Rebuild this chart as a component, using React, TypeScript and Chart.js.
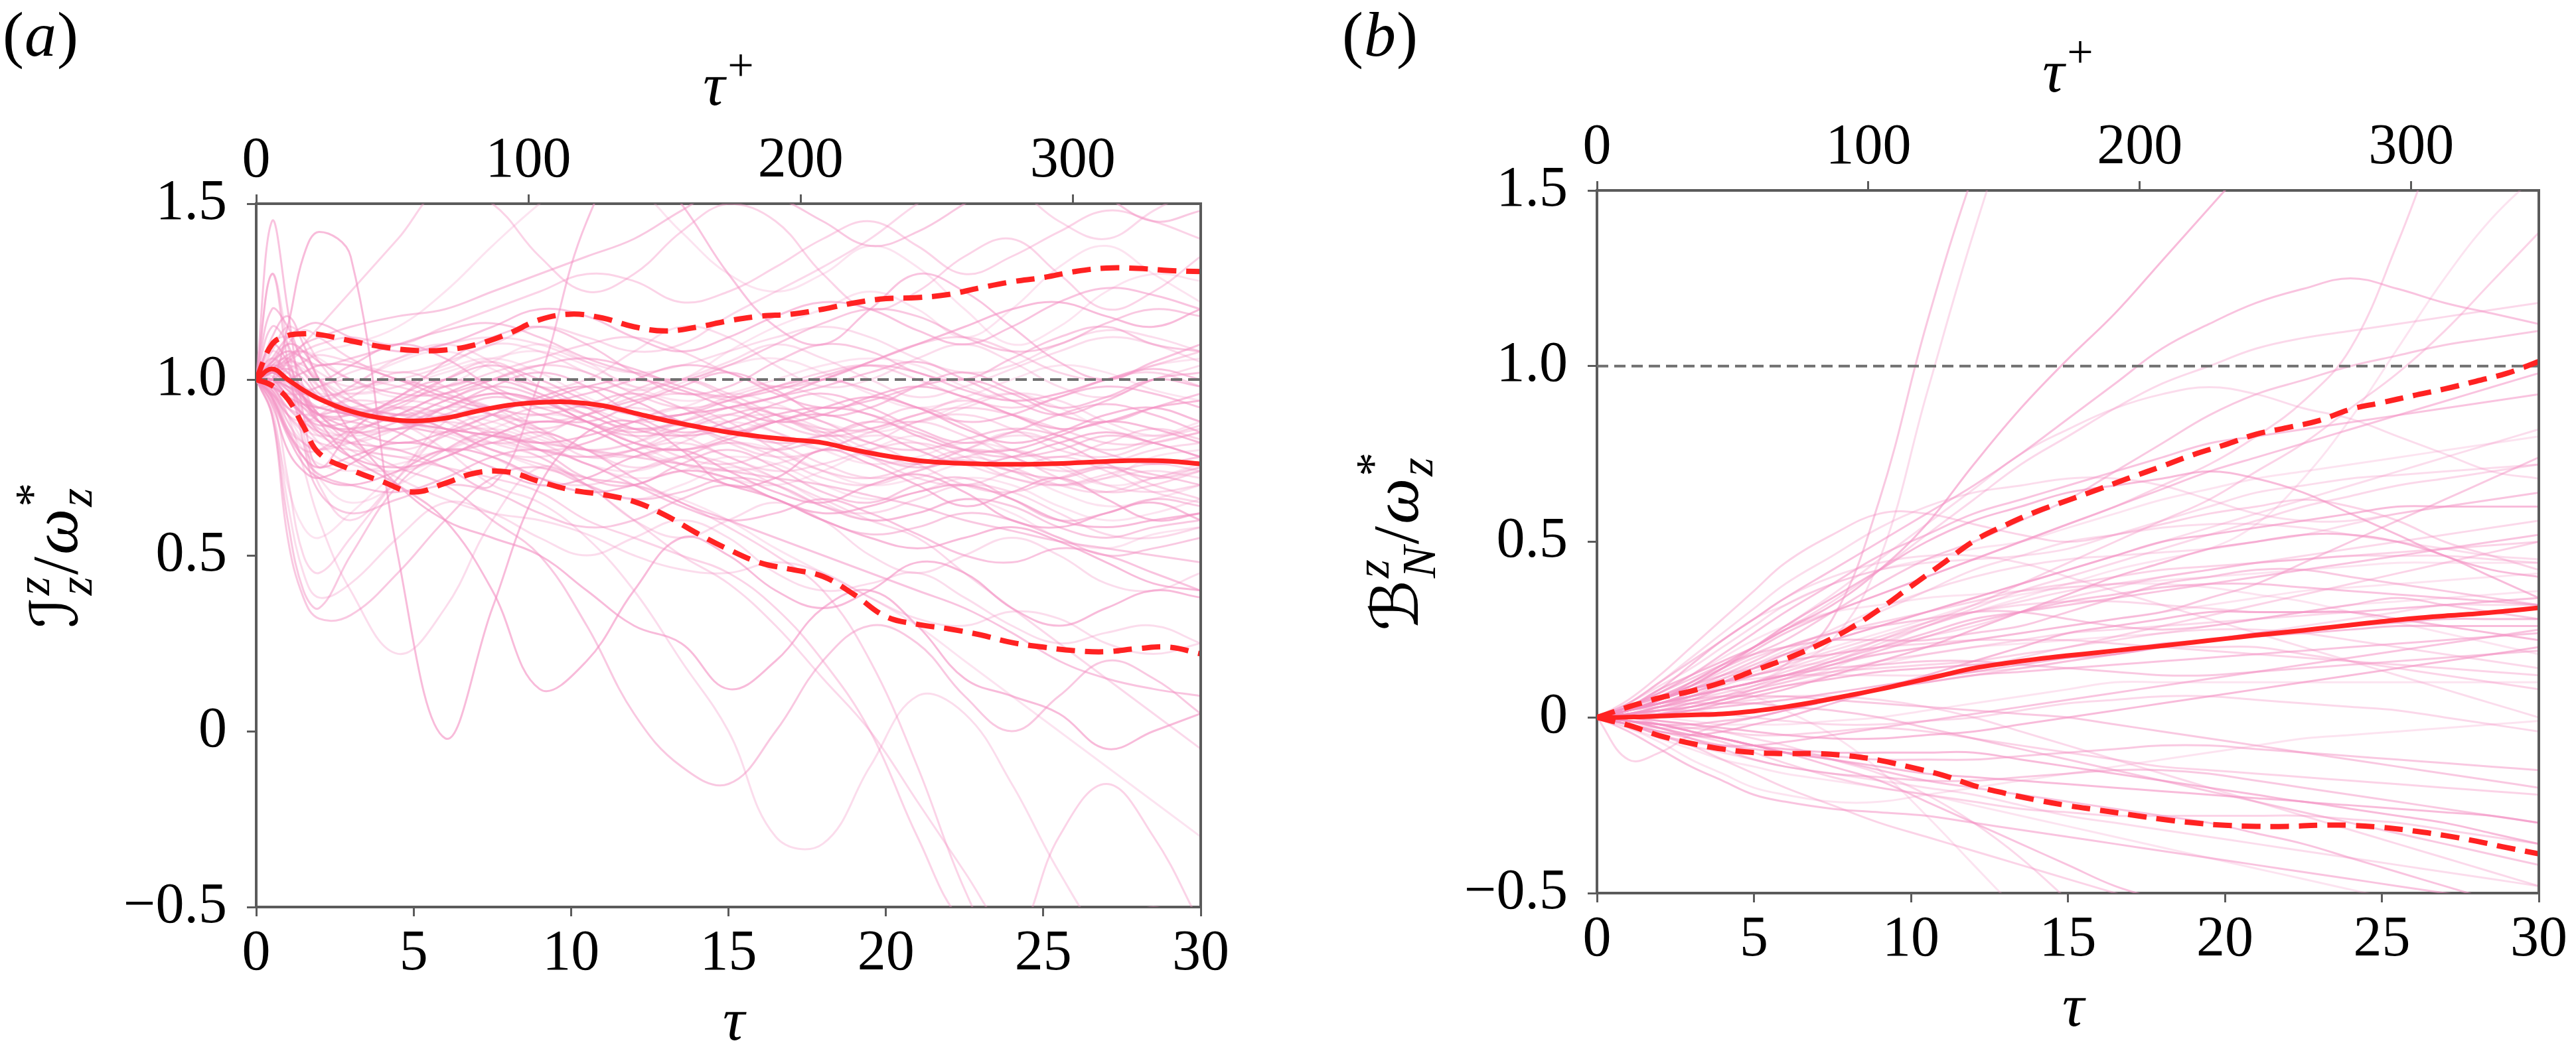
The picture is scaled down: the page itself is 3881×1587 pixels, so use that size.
import React, { useEffect, useRef } from 'react';
import { Chart, registerables } from 'chart.js';

Chart.register(...registerables);

// ---------------- data ----------------
const X_TICKS = [0, 5, 10, 15, 20, 25, 30];
const TOP_TICKS = [0, 100, 200, 300];
const TAU_PLUS_MAX = 347;
const Y_TICKS = [-0.5, 0, 0.5, 1.0, 1.5];

const TAU_STAT = [0, 0.5, 1, 1.5, 2, 3, 4, 5, 6, 7, 8, 9, 10, 11, 12, 13, 14, 15, 16, 17, 18, 19, 20, 21, 22, 23, 24, 25, 26, 27, 28, 29, 30];

const MEAN_A = [1.0, 1.03, 1.0, 0.97, 0.945, 0.91, 0.89, 0.882, 0.89, 0.91, 0.927, 0.935, 0.936, 0.926, 0.905, 0.884, 0.866, 0.85, 0.838, 0.829, 0.82, 0.8, 0.783, 0.77, 0.763, 0.76, 0.759, 0.76, 0.763, 0.767, 0.77, 0.768, 0.76];
const UPPER_A = [1.0, 1.1, 1.125, 1.13, 1.128, 1.11, 1.093, 1.083, 1.084, 1.1, 1.13, 1.17, 1.186, 1.175, 1.15, 1.138, 1.149, 1.167, 1.18, 1.186, 1.2, 1.218, 1.23, 1.233, 1.242, 1.261, 1.278, 1.29, 1.307, 1.317, 1.316, 1.31, 1.307];
const LOWER_A = [1.0, 0.983, 0.945, 0.867, 0.79, 0.744, 0.71, 0.68, 0.705, 0.735, 0.737, 0.71, 0.686, 0.673, 0.653, 0.614, 0.563, 0.517, 0.479, 0.46, 0.44, 0.388, 0.326, 0.304, 0.291, 0.274, 0.252, 0.239, 0.229, 0.226, 0.235, 0.239, 0.22];

const MEAN_B = [0, 0, 0.001, 0.002, 0.004, 0.007, 0.01, 0.018, 0.03, 0.045, 0.062, 0.08, 0.1, 0.12, 0.14, 0.154, 0.166, 0.176, 0.185, 0.195, 0.204, 0.214, 0.224, 0.234, 0.243, 0.253, 0.263, 0.273, 0.282, 0.289, 0.295, 0.303, 0.312];
const UPPER_B = [0, 0.015, 0.03, 0.043, 0.056, 0.075, 0.1, 0.133, 0.166, 0.204, 0.25, 0.308, 0.373, 0.437, 0.502, 0.547, 0.586, 0.618, 0.65, 0.683, 0.715, 0.748, 0.776, 0.806, 0.825, 0.845, 0.877, 0.896, 0.916, 0.935, 0.957, 0.98, 1.013];
const LOWER_B = [0, -0.011, -0.022, -0.037, -0.052, -0.074, -0.09, -0.1, -0.103, -0.103, -0.109, -0.122, -0.142, -0.164, -0.194, -0.216, -0.235, -0.251, -0.264, -0.277, -0.29, -0.3, -0.307, -0.31, -0.31, -0.307, -0.307, -0.313, -0.323, -0.336, -0.352, -0.371, -0.388];

const REF_A = 1.0;
const REF_B = 1.0;

const TAU_A = [0, 0.5, 1, 1.5, 2, 3, 4.5, 6, 7.5, 9, 10.5, 12, 13.5, 15, 16.5, 18, 19.5, 21, 22.5, 24, 25.5, 27, 28.5, 30];
const SAMPLES_A = [
  [1, 1.02, 0.98, 0.93, 0.9, 0.88, 0.86, 0.9, 0.95, 0.92, 0.88, 0.85, 0.87, 0.83, 0.8, 0.82, 0.78, 0.75, 0.77, 0.74, 0.72, 0.75, 0.73, 0.7],
  [1, 1.05, 1.08, 1.06, 1.02, 0.98, 1.0, 1.04, 1.1, 1.08, 1.02, 0.97, 1.0, 1.05, 1.1, 1.06, 1.0, 0.95, 0.98, 1.03, 1.08, 1.12, 1.1, 1.05],
  [1, 0.95, 0.85, 0.78, 0.75, 0.78, 0.82, 0.8, 0.75, 0.7, 0.72, 0.78, 0.8, 0.74, 0.68, 0.65, 0.7, 0.73, 0.68, 0.6, 0.58, 0.62, 0.65, 0.6],
  [1, 1.1, 1.12, 1.05, 0.98, 0.9, 0.92, 1.0, 1.05, 0.98, 0.92, 0.95, 1.0, 0.96, 0.9, 0.85, 0.88, 0.92, 0.87, 0.8, 0.78, 0.82, 0.86, 0.83],
  [1, 0.98, 0.9, 0.82, 0.72, 0.65, 0.7, 0.78, 0.82, 0.78, 0.7, 0.66, 0.7, 0.75, 0.72, 0.65, 0.6, 0.62, 0.66, 0.62, 0.55, 0.52, 0.56, 0.58],
  [1, 1.45, 1.2, 0.9, 0.75, 0.85, 0.95, 1.0, 0.97, 0.9, 0.88, 0.93, 0.98, 1.02, 0.97, 0.9, 0.92, 0.98, 1.02, 0.97, 0.92, 0.95, 1.0, 0.98],
  [1, 1.3, 1.1, 0.85, 0.7, 0.6, 0.72, 0.85, 0.9, 0.86, 0.8, 0.75, 0.78, 0.82, 0.78, 0.72, 0.7, 0.74, 0.78, 0.75, 0.7, 0.68, 0.72, 0.75],
  [1, 0.9, 0.6, 0.4, 0.35, 0.5, 0.7, 0.8, 0.85, 0.8, 0.72, 0.7, 0.76, 0.8, 0.75, 0.68, 0.65, 0.7, 0.72, 0.66, 0.6, 0.62, 0.66, 0.64],
  [1, 0.92, 0.65, 0.45, 0.38, 0.42, 0.55, 0.65, 0.62, 0.55, 0.5, 0.55, 0.6, 0.55, 0.45, 0.4, 0.42, 0.45, 0.38, 0.3, 0.25, 0.28, 0.3, 0.25],
  [1, 1.0, 1.15, 1.35, 1.42, 1.35, 0.5, -0.02, 0.35, 0.7, 0.85, 0.88, 0.8, 0.7, 0.72, 0.8, 0.76, 0.7, 0.64, 0.68, 0.72, 0.66, 0.6, 0.62],
  [1, 1.02, 1.05, 1.08, 1.1, 1.12, 1.1, 1.15, 1.2, 1.25, 1.3, 1.28, 1.22, 1.25, 1.32, 1.4, 1.45, 1.38, 1.3, 1.35, 1.42, 1.48, 1.45, 1.4],
  [1, 1.0, 1.02, 1.05, 1.08, 1.1, 1.15, 1.25, 1.38, 1.5, 1.6, 1.55, 1.42, 1.3, 1.25, 1.3, 1.38, 1.32, 1.2, 1.1, 1.15, 1.25, 1.3, 1.28],
  [1, 0.98, 0.92, 0.88, 0.85, 0.82, 0.8, 0.75, 0.7, 1.0, 1.45, 1.65, 1.5, 1.3, 1.15, 1.1, 1.2, 1.3, 1.25, 1.15, 1.05, 1.0, 1.05, 1.1],
  [1, 1.0, 0.95, 0.9, 0.88, 0.9, 0.92, 0.88, 0.82, 0.78, 0.7, 0.6, 0.5, 0.42, 0.3, 0.15, 0.0, -0.2, -0.4, -0.6, -0.7, -0.6, -0.5, -0.6],
  [1, 1.02, 1.0, 0.95, 0.9, 0.82, 0.75, 0.7, 0.6, 0.5, 0.3, 0.05, -0.1, -0.15, 0.0, 0.2, 0.3, 0.25, 0.1, 0.0, 0.1, 0.2, 0.15, 0.05],
  [1, 0.98, 0.95, 0.92, 0.9, 0.92, 0.88, 0.8, 0.7, 0.65, 0.55, 0.4, 0.2, 0.0, -0.3, -0.32, -0.1, 0.1, 0.05, -0.15, -0.4, -0.6, -0.7, -0.6],
  [1, 1.05, 1.1, 1.08, 1.0, 0.85, 0.7, 0.6, 0.55, 0.5, 0.4, 0.3, 0.25, 0.12, 0.2, 0.35, 0.4, 0.3, 0.15, 0.1, 0.05, -0.05, 0.0, 0.05],
  [1, 0.97, 0.9, 0.85, 0.82, 0.8, 0.78, 0.75, 0.72, 0.68, 0.6, 0.55, 0.5, 0.45, 0.35, 0.2, 0.0, -0.3, -0.55, -0.6, -0.3, -0.15, -0.3, -0.55],
  [1, 1.0, 1.0, 0.98, 0.95, 0.92, 0.88, 0.85, 0.8, 0.75, 0.72, 0.7, 0.66, 0.6, 0.52, 0.45, 0.38, 0.3, 0.2, 0.1, 0.0, -0.1, -0.2, -0.3],
  [1, 1.02, 1.03, 1.0, 0.95, 0.9, 0.85, 0.8, 0.82, 0.85, 0.8, 0.72, 0.65, 0.6, 0.55, 0.5, 0.45, 0.4, 0.35, 0.28, 0.2, 0.15, 0.12, 0.1],
  [1, 1.0, 1.03, 1.05, 1.07, 1.05, 1.02, 1.05, 1.1, 1.15, 1.12, 1.08, 1.1, 1.18, 1.25, 1.32, 1.4, 1.5, 1.58, 1.55, 1.45, 1.4, 1.48, 1.55],
  [1, 1.04, 1.06, 1.02, 0.96, 0.9, 0.95, 1.05, 1.12, 1.15, 1.1, 1.02, 0.96, 0.98, 1.05, 1.1, 1.08, 1.02, 1.0, 1.06, 1.12, 1.15, 1.1, 1.08],
  [1, 0.96, 0.9, 0.86, 0.84, 0.85, 0.9, 0.95, 0.92, 0.85, 0.8, 0.78, 0.82, 0.88, 0.9, 0.86, 0.8, 0.76, 0.8, 0.85, 0.82, 0.76, 0.72, 0.75],
  [1, 1.0, 0.97, 0.93, 0.9, 0.86, 0.82, 0.85, 0.9, 0.95, 0.98, 0.94, 0.88, 0.85, 0.88, 0.92, 0.95, 0.92, 0.86, 0.82, 0.85, 0.9, 0.92, 0.88],
  [1, 1.08, 1.15, 1.12, 1.05, 0.95, 0.88, 0.85, 0.88, 0.92, 0.9, 0.84, 0.78, 0.76, 0.8, 0.84, 0.82, 0.76, 0.7, 0.68, 0.72, 0.75, 0.7, 0.66],
  [1, 0.97, 0.88, 0.8, 0.76, 0.74, 0.76, 0.8, 0.86, 0.9, 0.88, 0.82, 0.76, 0.72, 0.7, 0.74, 0.8, 0.84, 0.8, 0.74, 0.7, 0.72, 0.78, 0.8],
  [1, 1.06, 1.12, 1.15, 1.16, 1.12, 1.08, 1.1, 1.15, 1.2, 1.18, 1.12, 1.08, 1.12, 1.18, 1.22, 1.2, 1.14, 1.1, 1.15, 1.22, 1.26, 1.24, 1.2],
  [1, 0.95, 0.72, 0.5, 0.45, 0.55, 0.72, 0.88, 0.92, 0.86, 0.78, 0.8, 0.86, 0.9, 0.85, 0.8, 0.82, 0.88, 0.9, 0.86, 0.8, 0.78, 0.82, 0.85],
  [1, 1.3, 1.05, 0.82, 0.68, 0.62, 0.66, 0.7, 0.68, 0.62, 0.58, 0.6, 0.66, 0.7, 0.66, 0.6, 0.56, 0.58, 0.62, 0.6, 0.55, 0.5, 0.52, 0.55],
  [1, 0.98, 0.9, 0.75, 0.6, 0.4, 0.22, 0.35, 0.6, 0.75, 0.7, 0.6, 0.55, 0.6, 0.65, 0.6, 0.5, 0.45, 0.5, 0.55, 0.5, 0.42, 0.4, 0.45],
  [1, 1.02, 1.0, 0.95, 0.88, 0.78, 0.7, 0.6, 0.4, 0.12, 0.2, 0.4, 0.55, 0.5, 0.4, 0.35, 0.4, 0.48, 0.45, 0.35, 0.3, 0.35, 0.4, 0.38],
  [1, 1.0, 1.05, 1.1, 1.15, 1.25, 1.4, 1.55, 1.5, 1.35, 1.25, 1.3, 1.42, 1.5, 1.45, 1.3, 1.2, 1.25, 1.35, 1.4, 1.3, 1.2, 1.25, 1.35],
  [1, 1.03, 1.05, 1.03, 1.0, 0.96, 0.98, 1.03, 1.06, 1.02, 0.95, 0.9, 0.92, 0.96, 0.93, 0.88, 0.85, 0.88, 0.93, 0.96, 0.92, 0.86, 0.84, 0.88],
  [1, 0.99, 0.94, 0.9, 0.87, 0.88, 0.93, 0.98, 1.0, 0.96, 0.9, 0.86, 0.88, 0.92, 0.95, 0.98, 1.02, 1.05, 1.0, 0.94, 0.9, 0.94, 1.0, 1.02],
  [1, 1.01, 0.97, 0.92, 0.88, 0.85, 0.86, 0.88, 0.85, 0.8, 0.78, 0.8, 0.82, 0.78, 0.72, 0.66, 0.6, 0.55, 0.45, 0.35, 0.25, 0.15, 0.05, -0.05],
  [1, 0.9, 0.55, 0.38, 0.32, 0.33, 0.45, 0.6, 0.72, 0.75, 0.7, 0.66, 0.68, 0.72, 0.7, 0.64, 0.6, 0.62, 0.66, 0.64, 0.58, 0.55, 0.58, 0.6],
  [1, 1.04, 1.02, 0.98, 0.94, 0.98, 1.06, 1.1, 1.05, 0.98, 1.0, 1.08, 1.15, 1.12, 1.04, 0.98, 1.0, 1.06, 1.1, 1.05, 0.98, 0.95, 1.0, 1.04],
  [1, 0.98, 0.95, 0.93, 0.92, 0.9, 0.88, 0.86, 0.84, 0.82, 0.84, 0.88, 0.9, 0.92, 0.95, 1.0, 1.05, 1.1, 1.15, 1.2, 1.22, 1.18, 1.15, 1.2],
  [1, 1.0, 0.98, 0.96, 0.95, 0.92, 0.9, 0.86, 0.8, 0.76, 0.72, 0.7, 0.65, 0.58, 0.5, 0.4, 0.2, -0.1, -0.45, -0.7, -0.8, -0.7, -0.6, -0.7],
  [1, 1.02, 1.06, 1.08, 1.06, 1.0, 0.95, 0.98, 1.05, 1.1, 1.05, 0.98, 1.0, 1.08, 1.15, 1.2, 1.25, 1.2, 1.12, 1.2, 1.32, 1.38, 1.3, 1.22],
  [1, 0.96, 0.86, 0.78, 0.73, 0.7, 0.68, 0.72, 0.78, 0.8, 0.76, 0.7, 0.64, 0.6, 0.62, 0.66, 0.62, 0.56, 0.5, 0.48, 0.52, 0.5, 0.45, 0.4],
  [1, 1.02, 1.04, 1.02, 0.98, 0.94, 0.9, 0.92, 0.96, 0.94, 0.88, 0.82, 0.8, 0.84, 0.88, 0.85, 0.78, 0.72, 0.7, 0.74, 0.78, 0.74, 0.68, 0.65],
  [1, 1.03, 1.06, 1.1, 1.12, 1.15, 1.18, 1.2, 1.25, 1.3, 1.35, 1.4, 1.48, 1.55, 1.52, 1.45, 1.38, 1.42, 1.5, 1.58, 1.6, 1.52, 1.45, 1.48],
  [1, 0.99, 0.95, 0.9, 0.86, 0.8, 0.72, 0.66, 0.62, 0.6, 0.56, 0.5, 0.46, 0.45, 0.48, 0.45, 0.38, 0.32, 0.3, 0.34, 0.32, 0.25, 0.22, 0.25],
  [1, 1.0, 0.95, 0.9, 0.85, 0.78, 0.75, 0.78, 0.84, 0.88, 0.86, 0.8, 0.74, 0.7, 0.66, 0.6, 0.55, 0.52, 0.55, 0.58, 0.54, 0.48, 0.42, 0.4],
  [1, 1.06, 1.02, 0.95, 0.92, 0.95, 1.02, 0.98, 0.9, 0.86, 0.9, 0.97, 1.0, 0.95, 0.88, 0.84, 0.86, 0.9, 0.94, 0.9, 0.84, 0.8, 0.83, 0.87],
  [1, 0.97, 0.92, 0.9, 0.92, 0.98, 1.05, 1.08, 1.03, 0.96, 0.92, 0.94, 0.99, 1.04, 1.06, 1.02, 0.96, 0.92, 0.95, 1.0, 1.04, 1.02, 0.97, 0.94],
  [1, 1.12, 1.18, 1.1, 1.0, 0.92, 0.88, 0.92, 0.98, 1.02, 0.98, 0.9, 0.85, 0.88, 0.93, 0.96, 0.92, 0.86, 0.82, 0.85, 0.9, 0.93, 0.9, 0.85],
  [1, 0.95, 0.86, 0.82, 0.8, 0.84, 0.9, 0.86, 0.8, 0.78, 0.82, 0.86, 0.84, 0.78, 0.74, 0.76, 0.8, 0.82, 0.78, 0.72, 0.7, 0.73, 0.76, 0.74],
  [1, 1.02, 0.99, 0.96, 0.95, 0.97, 1.0, 0.96, 0.92, 0.9, 0.93, 0.96, 0.92, 0.86, 0.82, 0.84, 0.88, 0.85, 0.8, 0.78, 0.8, 0.84, 0.82, 0.78],
  [1, 1.08, 1.04, 0.96, 0.9, 0.84, 0.8, 0.84, 0.9, 0.94, 0.92, 0.88, 0.9, 0.95, 0.98, 0.95, 0.9, 0.88, 0.92, 0.96, 0.94, 0.88, 0.84, 0.86],
  [1, 0.93, 0.8, 0.74, 0.72, 0.76, 0.84, 0.92, 0.96, 0.94, 0.88, 0.82, 0.8, 0.83, 0.88, 0.9, 0.86, 0.8, 0.76, 0.78, 0.82, 0.85, 0.82, 0.78],
  [1, 1.04, 1.1, 1.14, 1.12, 1.06, 1.0, 0.98, 1.02, 1.06, 1.1, 1.12, 1.08, 1.02, 0.98, 1.0, 1.05, 1.1, 1.12, 1.08, 1.02, 1.0, 1.04, 1.08],
  [1, 0.99, 0.96, 0.92, 0.88, 0.82, 0.78, 0.8, 0.84, 0.82, 0.76, 0.72, 0.74, 0.78, 0.76, 0.7, 0.66, 0.68, 0.72, 0.7, 0.64, 0.6, 0.62, 0.66],
  [1, 1.03, 1.0, 0.94, 0.9, 0.9, 0.94, 1.0, 1.04, 1.0, 0.94, 0.9, 0.9, 0.94, 0.98, 1.0, 0.97, 0.92, 0.88, 0.9, 0.95, 0.98, 0.96, 0.92],
  [1, 0.96, 0.9, 0.88, 0.9, 0.94, 0.92, 0.86, 0.82, 0.84, 0.9, 0.92, 0.88, 0.82, 0.78, 0.8, 0.85, 0.88, 0.84, 0.78, 0.74, 0.76, 0.8, 0.82],
  [1, 1.15, 1.1, 0.98, 0.9, 0.85, 0.88, 0.94, 0.98, 0.95, 0.88, 0.84, 0.86, 0.9, 0.92, 0.88, 0.82, 0.8, 0.83, 0.86, 0.84, 0.79, 0.76, 0.78],
  [1, 1.0, 0.98, 0.97, 0.98, 1.02, 1.06, 1.1, 1.12, 1.1, 1.05, 1.02, 1.04, 1.08, 1.12, 1.15, 1.12, 1.06, 1.02, 1.04, 1.1, 1.14, 1.12, 1.08],
  [1, 0.94, 0.84, 0.76, 0.72, 0.7, 0.74, 0.8, 0.78, 0.72, 0.68, 0.7, 0.74, 0.72, 0.66, 0.62, 0.64, 0.68, 0.7, 0.66, 0.6, 0.58, 0.6, 0.62],
  [1, 1.02, 1.05, 1.04, 1.0, 0.94, 0.9, 0.94, 1.0, 1.04, 1.02, 0.96, 0.92, 0.94, 0.98, 1.02, 1.04, 1.0, 0.95, 0.92, 0.95, 1.0, 1.02, 0.98],
  [1, 0.98, 0.94, 0.9, 0.86, 0.84, 0.86, 0.9, 0.88, 0.83, 0.8, 0.82, 0.86, 0.88, 0.85, 0.8, 0.76, 0.78, 0.82, 0.8, 0.75, 0.7, 0.72, 0.76],
  [1, 1.2, 1.15, 1.05, 1.0, 1.04, 1.1, 1.06, 0.98, 0.94, 0.96, 1.0, 1.04, 1.02, 0.96, 0.92, 0.94, 0.98, 1.0, 0.96, 0.9, 0.88, 0.92, 0.96],
  [1, 0.97, 0.88, 0.82, 0.8, 0.82, 0.86, 0.84, 0.78, 0.72, 0.7, 0.74, 0.78, 0.76, 0.7, 0.64, 0.62, 0.66, 0.7, 0.68, 0.62, 0.56, 0.55, 0.58],
  [1, 1.05, 1.08, 1.06, 1.04, 1.06, 1.1, 1.14, 1.16, 1.12, 1.06, 1.02, 1.0, 1.04, 1.1, 1.16, 1.2, 1.18, 1.12, 1.08, 1.1, 1.16, 1.2, 1.18],
  [1, 1.0, 0.95, 0.88, 0.82, 0.76, 0.74, 0.78, 0.84, 0.88, 0.86, 0.8, 0.76, 0.74, 0.76, 0.8, 0.84, 0.82, 0.76, 0.72, 0.7, 0.72, 0.74, 0.72],
  [1, 1.1, 1.05, 0.95, 0.88, 0.86, 0.9, 0.96, 1.0, 0.98, 0.92, 0.86, 0.84, 0.86, 0.9, 0.92, 0.9, 0.84, 0.8, 0.8, 0.84, 0.88, 0.86, 0.82],
  [1, 0.98, 0.96, 0.96, 0.98, 1.0, 0.98, 0.94, 0.9, 0.88, 0.9, 0.94, 0.96, 0.94, 0.9, 0.86, 0.86, 0.9, 0.92, 0.9, 0.86, 0.82, 0.82, 0.85],
  [1, 0.9, 0.7, 0.58, 0.55, 0.62, 0.74, 0.84, 0.86, 0.82, 0.76, 0.74, 0.78, 0.82, 0.8, 0.74, 0.7, 0.72, 0.76, 0.74, 0.68, 0.64, 0.66, 0.7],
  [1, 1.03, 1.07, 1.08, 1.05, 1.0, 0.96, 0.96, 1.0, 1.04, 1.06, 1.03, 0.98, 0.95, 0.97, 1.01, 1.04, 1.02, 0.97, 0.94, 0.96, 1.0, 1.03, 1.0],
  [1, 0.96, 0.92, 0.9, 0.9, 0.92, 0.94, 0.92, 0.86, 0.8, 0.78, 0.8, 0.84, 0.86, 0.82, 0.76, 0.72, 0.74, 0.78, 0.8, 0.76, 0.7, 0.68, 0.7],
  [1, 1.0, 0.98, 0.95, 0.92, 0.9, 0.88, 0.86, 0.84, 0.82, 0.8, 0.78, 0.76, 0.74, 0.72, 0.7, 0.67, 0.64, 0.6, 0.57, 0.54, 0.52, 0.5, 0.48],
  [1, 1.06, 1.0, 0.9, 0.84, 0.82, 0.86, 0.92, 0.9, 0.84, 0.8, 0.82, 0.88, 0.92, 0.9, 0.84, 0.78, 0.76, 0.8, 0.84, 0.82, 0.76, 0.72, 0.74],
  [1, 0.99, 1.0, 1.02, 1.04, 1.04, 1.0, 0.95, 0.92, 0.94, 0.98, 1.0, 0.97, 0.92, 0.88, 0.9, 0.95, 0.98, 0.95, 0.9, 0.86, 0.88, 0.92, 0.94],
  [1, 0.95, 0.85, 0.8, 0.8, 0.86, 0.92, 0.9, 0.84, 0.8, 0.82, 0.88, 0.92, 0.88, 0.8, 0.74, 0.72, 0.76, 0.8, 0.78, 0.72, 0.68, 0.7, 0.74],
  [1, 1.04, 1.02, 0.98, 0.96, 0.96, 0.98, 1.02, 1.06, 1.08, 1.04, 0.98, 0.94, 0.96, 1.0, 1.04, 1.06, 1.04, 0.98, 0.94, 0.96, 1.0, 1.04, 1.06],
];

const TAU_B = [0, 1, 2, 3, 4, 5, 6, 7.5, 9, 10.5, 12, 13.5, 15, 16.5, 18, 19.5, 21, 22.5, 24, 25.5, 27, 28.5, 30];
const SAMPLES_B = [
  [0, 0.02, 0.05, 0.08, 0.1, 0.12, 0.15, 0.28, 0.62, 1.12, 1.55, 1.9, 2.2, 2.5, 2.8, 3.0, 3.2, 3.4, 3.6, 3.8, 4.0, 4.2, 4.4],
  [0, 0.01, 0.03, 0.05, 0.08, 0.1, 0.14, 0.22, 0.45, 0.92, 1.38, 1.78, 2.1, 2.4, 2.7, 2.9, 3.1, 3.3, 3.5, 3.7, 3.9, 4.1, 4.3],
  [0, 0.03, 0.08, 0.12, 0.16, 0.2, 0.25, 0.32, 0.42, 0.55, 0.72, 0.88, 1.02, 1.15, 1.3, 1.45, 1.6, 1.75, 1.9, 2.05, 2.2, 2.35, 2.5],
  [0, 0.02, 0.05, 0.1, 0.15, 0.2, 0.25, 0.3, 0.35, 0.4, 0.45, 0.5, 0.55, 0.6, 0.66, 0.72, 0.8, 0.9, 1.05, 1.35, 1.7, 2.0, 2.3],
  [0, 0.0, 0.02, 0.04, 0.06, 0.08, 0.1, 0.14, 0.2, 0.26, 0.3, 0.34, 0.38, 0.42, 0.45, 0.48, 0.55, 0.68, 0.85, 1.05, 1.25, 1.42, 1.55],
  [0, 0.03, 0.08, 0.15, 0.22, 0.28, 0.34, 0.42, 0.5, 0.58, 0.66, 0.75, 0.85, 0.95, 1.05, 1.12, 1.18, 1.22, 1.25, 1.22, 1.18, 1.15, 1.12],
  [0, 0.02, 0.06, 0.1, 0.15, 0.2, 0.25, 0.33, 0.42, 0.52, 0.62, 0.72, 0.8, 0.88, 0.95, 1.0, 1.05, 1.08, 1.1, 1.12, 1.14, 1.16, 1.18],
  [0, 0.03, 0.06, 0.1, 0.14, 0.18, 0.22, 0.3, 0.38, 0.45, 0.5, 0.56, 0.62, 0.7, 0.78, 0.86, 0.92, 0.96, 1.0, 1.03, 1.06, 1.08, 1.1],
  [0, 0.02, 0.05, 0.1, 0.15, 0.2, 0.26, 0.35, 0.45, 0.55, 0.65, 0.75, 0.82, 0.88, 0.92, 0.94, 0.92, 0.88, 0.85, 0.8, 0.75, 0.7, 0.68],
  [0, 0.02, 0.05, 0.09, 0.14, 0.2, 0.26, 0.34, 0.42, 0.5, 0.56, 0.6, 0.64, 0.66, 0.68, 0.7, 0.68, 0.64, 0.58, 0.52, 0.46, 0.42, 0.4],
  [0, 0.05, 0.12, 0.2, 0.28, 0.36, 0.44, 0.52, 0.58, 0.58, 0.55, 0.52, 0.5, 0.52, 0.55, 0.58, 0.6, 0.62, 0.6, 0.56, 0.5, 0.46, 0.42],
  [0, 0.04, 0.1, 0.16, 0.22, 0.28, 0.32, 0.38, 0.42, 0.45, 0.48, 0.5, 0.54, 0.58, 0.62, 0.65, 0.68, 0.7, 0.72, 0.74, 0.76, 0.78, 0.8],
  [0, 0.02, 0.04, 0.06, 0.08, 0.1, 0.12, 0.16, 0.2, 0.24, 0.28, 0.3, 0.32, 0.34, 0.36, 0.38, 0.4, 0.42, 0.44, 0.46, 0.48, 0.5, 0.52],
  [0, 0.01, 0.02, 0.04, 0.06, 0.08, 0.1, 0.13, 0.16, 0.18, 0.2, 0.22, 0.24, 0.25, 0.26, 0.27, 0.28, 0.29, 0.3, 0.31, 0.32, 0.33, 0.34],
  [0, 0.02, 0.05, 0.08, 0.12, 0.16, 0.2, 0.24, 0.26, 0.28, 0.3, 0.3, 0.28, 0.26, 0.25, 0.26, 0.28, 0.3, 0.32, 0.34, 0.32, 0.3, 0.28],
  [0, -0.02, -0.05, -0.08, -0.1, -0.12, -0.14, -0.16, -0.18, -0.2, -0.22, -0.25, -0.28, -0.3, -0.32, -0.34, -0.36, -0.38, -0.4, -0.42, -0.44, -0.46, -0.48],
  [0, -0.01, -0.03, -0.05, -0.06, -0.08, -0.09, -0.1, -0.1, -0.1, -0.1, -0.12, -0.14, -0.16, -0.18, -0.2, -0.22, -0.24, -0.25, -0.26, -0.27, -0.28, -0.3],
  [0, -0.02, -0.05, -0.08, -0.12, -0.16, -0.2, -0.25, -0.3, -0.34, -0.38, -0.42, -0.46, -0.5, -0.54, -0.58, -0.62, -0.66, -0.7, -0.74, -0.78, -0.8, -0.82],
  [0, 0.02, 0.04, 0.06, 0.08, 0.06, 0.02, -0.05, -0.15, -0.28, -0.42, -0.56, -0.7, -0.84, -0.98, -1.1, -1.2, -1.3, -1.4, -1.5, -1.6, -1.7, -1.8],
  [0, 0, -0.02, -0.04, -0.06, -0.08, -0.1, -0.14, -0.18, -0.24, -0.3, -0.36, -0.42, -0.48, -0.52, -0.56, -0.6, -0.64, -0.68, -0.72, -0.76, -0.8, -0.84],
  [0, 0.01, 0.02, 0.02, 0.01, 0.0, -0.01, -0.02, -0.02, -0.01, 0.0, 0.02, 0.04, 0.05, 0.06, 0.06, 0.05, 0.04, 0.03, 0.02, 0.0, -0.02, -0.04],
  [0, 0.02, 0.04, 0.06, 0.08, 0.1, 0.12, 0.14, 0.15, 0.16, 0.16, 0.15, 0.14, 0.13, 0.12, 0.12, 0.13, 0.14, 0.15, 0.16, 0.17, 0.18, 0.19],
  [0, 0.01, 0.03, 0.06, 0.1, 0.14, 0.18, 0.24, 0.3, 0.36, 0.42, 0.46, 0.5, 0.52, 0.54, 0.55, 0.55, 0.54, 0.52, 0.5, 0.48, 0.46, 0.45],
  [0, -0.02, -0.04, -0.05, -0.04, -0.02, 0.0, 0.04, 0.08, 0.12, 0.16, 0.2, 0.24, 0.26, 0.28, 0.3, 0.3, 0.3, 0.3, 0.28, 0.26, 0.24, 0.22],
  [0, -0.12, -0.1, -0.05, -0.02, 0.0, 0.02, 0.05, 0.08, 0.1, 0.12, 0.14, 0.16, 0.18, 0.2, 0.2, 0.2, 0.18, 0.16, 0.14, 0.12, 0.1, 0.08],
  [0, -0.03, -0.07, -0.12, -0.16, -0.2, -0.22, -0.24, -0.24, -0.22, -0.2, -0.18, -0.16, -0.14, -0.12, -0.1, -0.08, -0.06, -0.05, -0.04, -0.03, -0.02, -0.01],
  [0, -0.01, -0.02, -0.04, -0.06, -0.08, -0.1, -0.12, -0.15, -0.18, -0.2, -0.22, -0.24, -0.26, -0.28, -0.3, -0.33, -0.36, -0.4, -0.44, -0.48, -0.52, -0.56],
  [0, 0.02, 0.05, 0.08, 0.1, 0.12, 0.14, 0.18, 0.22, 0.26, 0.3, 0.33, 0.36, 0.38, 0.4, 0.42, 0.44, 0.46, 0.48, 0.5, 0.52, 0.54, 0.56],
  [0, 0.03, 0.07, 0.11, 0.15, 0.18, 0.2, 0.22, 0.22, 0.22, 0.24, 0.26, 0.3, 0.34, 0.38, 0.4, 0.42, 0.42, 0.4, 0.38, 0.36, 0.34, 0.32],
  [0, 0.04, 0.1, 0.17, 0.24, 0.31, 0.38, 0.46, 0.54, 0.6, 0.64, 0.66, 0.68, 0.68, 0.66, 0.62, 0.58, 0.56, 0.56, 0.58, 0.6, 0.62, 0.64],
  [0, 0.0, 0.01, 0.02, 0.04, 0.06, 0.08, 0.12, 0.16, 0.2, 0.25, 0.3, 0.35, 0.4, 0.44, 0.48, 0.5, 0.52, 0.52, 0.5, 0.46, 0.4, 0.34],
  [0, -0.01, -0.02, -0.03, -0.04, -0.05, -0.05, -0.04, -0.03, -0.04, -0.06, -0.08, -0.1, -0.12, -0.14, -0.15, -0.16, -0.17, -0.18, -0.19, -0.2, -0.21, -0.22],
  [0, 0.02, 0.04, 0.07, 0.1, 0.12, 0.14, 0.16, 0.18, 0.2, 0.22, 0.24, 0.26, 0.28, 0.3, 0.32, 0.34, 0.36, 0.37, 0.38, 0.39, 0.4, 0.41],
  [0, 0.03, 0.07, 0.12, 0.18, 0.24, 0.3, 0.38, 0.46, 0.52, 0.58, 0.62, 0.66, 0.7, 0.74, 0.78, 0.8, 0.82, 0.84, 0.86, 0.88, 0.9, 0.92],
  [0, 0.01, 0.02, 0.03, 0.04, 0.05, 0.06, 0.06, 0.05, 0.03, 0.0, -0.04, -0.08, -0.12, -0.16, -0.2, -0.24, -0.28, -0.32, -0.36, -0.4, -0.44, -0.48],
  [0, -0.01, -0.03, -0.06, -0.09, -0.12, -0.14, -0.16, -0.17, -0.18, -0.18, -0.17, -0.16, -0.15, -0.15, -0.16, -0.18, -0.2, -0.22, -0.24, -0.26, -0.28, -0.3],
  [0, 0.02, 0.05, 0.08, 0.1, 0.11, 0.12, 0.12, 0.12, 0.12, 0.13, 0.14, 0.16, 0.18, 0.2, 0.22, 0.24, 0.26, 0.28, 0.3, 0.32, 0.32, 0.32],
  [0, 0.02, 0.04, 0.07, 0.1, 0.14, 0.18, 0.22, 0.26, 0.3, 0.34, 0.38, 0.42, 0.46, 0.5, 0.52, 0.54, 0.56, 0.58, 0.6, 0.6, 0.6, 0.6],
  [0, 0.01, 0.03, 0.05, 0.08, 0.1, 0.13, 0.17, 0.22, 0.27, 0.32, 0.38, 0.44, 0.5, 0.56, 0.62, 0.7, 0.78, 0.88, 0.98, 1.1, 1.24, 1.38],
  [0, 0.0, 0.0, -0.01, -0.02, -0.02, -0.02, -0.01, 0.0, 0.02, 0.04, 0.06, 0.08, 0.1, 0.1, 0.1, 0.1, 0.1, 0.1, 0.1, 0.1, 0.1, 0.1],
  [0, -0.04, -0.09, -0.14, -0.18, -0.22, -0.24, -0.26, -0.27, -0.28, -0.3, -0.32, -0.34, -0.36, -0.38, -0.4, -0.42, -0.44, -0.46, -0.48, -0.5, -0.52, -0.54],
  [0, 0, -0.01, -0.02, -0.04, -0.06, -0.08, -0.12, -0.16, -0.22, -0.3, -0.4, -0.52, -0.64, -0.76, -0.88, -1.0, -1.1, -1.2, -1.3, -1.4, -1.5, -1.6],
  [0, 0.02, 0.04, 0.06, 0.08, 0.1, 0.12, 0.15, 0.18, 0.2, 0.22, 0.24, 0.26, 0.28, 0.3, 0.34, 0.38, 0.44, 0.5, 0.56, 0.62, 0.68, 0.74],
  [0, 0.04, 0.1, 0.16, 0.22, 0.28, 0.34, 0.4, 0.44, 0.46, 0.46, 0.44, 0.4, 0.36, 0.32, 0.28, 0.24, 0.2, 0.16, 0.12, 0.08, 0.04, 0.0],
  [0, 0.01, 0.02, 0.03, 0.05, 0.07, 0.09, 0.11, 0.13, 0.14, 0.15, 0.16, 0.17, 0.18, 0.2, 0.22, 0.24, 0.25, 0.26, 0.27, 0.28, 0.28, 0.28],
  [0, 0.02, 0.05, 0.09, 0.13, 0.17, 0.2, 0.24, 0.27, 0.3, 0.33, 0.36, 0.38, 0.4, 0.42, 0.43, 0.44, 0.45, 0.46, 0.47, 0.48, 0.49, 0.5],
  [0, 0.01, 0.02, 0.03, 0.05, 0.07, 0.09, 0.12, 0.15, 0.18, 0.2, 0.21, 0.22, 0.23, 0.24, 0.26, 0.28, 0.3, 0.32, 0.33, 0.34, 0.35, 0.36],
  [0, -0.01, -0.02, -0.02, -0.01, 0.0, 0.02, 0.05, 0.08, 0.1, 0.12, 0.13, 0.14, 0.15, 0.16, 0.17, 0.18, 0.19, 0.2, 0.21, 0.22, 0.23, 0.24],
  [0, 0.03, 0.06, 0.09, 0.12, 0.14, 0.16, 0.18, 0.2, 0.23, 0.26, 0.3, 0.34, 0.37, 0.4, 0.42, 0.44, 0.45, 0.46, 0.46, 0.46, 0.45, 0.44],
  [0, -0.02, -0.04, -0.06, -0.08, -0.09, -0.1, -0.11, -0.12, -0.12, -0.12, -0.11, -0.1, -0.09, -0.08, -0.08, -0.09, -0.1, -0.11, -0.12, -0.13, -0.14, -0.15],
  [0, 0.02, 0.05, 0.08, 0.11, 0.15, 0.19, 0.25, 0.31, 0.36, 0.4, 0.43, 0.45, 0.46, 0.47, 0.48, 0.5, 0.52, 0.55, 0.58, 0.6, 0.62, 0.64],
  [0, 0.01, 0.01, 0.02, 0.03, 0.04, 0.05, 0.07, 0.09, 0.11, 0.13, 0.15, 0.17, 0.19, 0.21, 0.22, 0.23, 0.24, 0.25, 0.26, 0.26, 0.26, 0.26],
  [0, -0.01, -0.03, -0.05, -0.07, -0.1, -0.13, -0.17, -0.2, -0.22, -0.24, -0.26, -0.27, -0.28, -0.28, -0.28, -0.28, -0.28, -0.29, -0.3, -0.32, -0.34, -0.36],
  [0, 0.03, 0.07, 0.12, 0.17, 0.22, 0.26, 0.3, 0.32, 0.34, 0.35, 0.36, 0.37, 0.38, 0.39, 0.4, 0.41, 0.42, 0.43, 0.44, 0.44, 0.44, 0.44],
  [0, 0.0, 0.01, 0.03, 0.05, 0.08, 0.11, 0.15, 0.19, 0.23, 0.27, 0.3, 0.33, 0.35, 0.37, 0.38, 0.38, 0.37, 0.36, 0.35, 0.34, 0.33, 0.32],
  [0, -0.02, -0.03, -0.03, -0.02, 0.0, 0.02, 0.05, 0.08, 0.11, 0.14, 0.17, 0.2, 0.22, 0.24, 0.25, 0.25, 0.24, 0.22, 0.2, 0.18, 0.16, 0.14],
  [0, 0.02, 0.04, 0.05, 0.06, 0.06, 0.06, 0.05, 0.04, 0.03, 0.02, 0.01, 0.0, -0.02, -0.04, -0.06, -0.08, -0.1, -0.12, -0.14, -0.16, -0.18, -0.2],
  [0, 0.04, 0.09, 0.14, 0.2, 0.26, 0.32, 0.38, 0.42, 0.44, 0.45, 0.46, 0.48, 0.52, 0.56, 0.6, 0.64, 0.66, 0.68, 0.69, 0.7, 0.71, 0.72],
  [0, -0.01, -0.02, -0.04, -0.06, -0.08, -0.1, -0.12, -0.14, -0.16, -0.17, -0.18, -0.19, -0.2, -0.21, -0.22, -0.23, -0.24, -0.26, -0.28, -0.3, -0.33, -0.36],
  [0, 0.01, 0.03, 0.05, 0.07, 0.09, 0.11, 0.13, 0.14, 0.15, 0.16, 0.18, 0.2, 0.23, 0.26, 0.29, 0.32, 0.35, 0.38, 0.41, 0.44, 0.47, 0.5],
  [0, 0.02, 0.04, 0.07, 0.1, 0.13, 0.16, 0.2, 0.24, 0.28, 0.32, 0.35, 0.37, 0.38, 0.38, 0.37, 0.35, 0.33, 0.3, 0.27, 0.24, 0.21, 0.18],
  [0, -0.02, -0.05, -0.07, -0.08, -0.08, -0.07, -0.05, -0.03, -0.01, 0.01, 0.03, 0.05, 0.07, 0.09, 0.11, 0.13, 0.15, 0.17, 0.19, 0.21, 0.23, 0.25],
  [0, 0.01, 0.02, 0.04, 0.06, 0.09, 0.12, 0.16, 0.21, 0.26, 0.31, 0.36, 0.4, 0.44, 0.48, 0.52, 0.56, 0.6, 0.63, 0.66, 0.68, 0.7, 0.72],
  [0, 0.02, 0.03, 0.04, 0.04, 0.04, 0.03, 0.02, 0.0, -0.03, -0.06, -0.09, -0.12, -0.15, -0.18, -0.21, -0.24, -0.27, -0.3, -0.33, -0.36, -0.39, -0.42],
  [0, 0.03, 0.06, 0.09, 0.12, 0.15, 0.18, 0.22, 0.26, 0.3, 0.34, 0.38, 0.42, 0.46, 0.5, 0.54, 0.58, 0.62, 0.66, 0.7, 0.74, 0.78, 0.82],
  [0, 0.0, -0.01, -0.02, -0.03, -0.04, -0.05, -0.06, -0.06, -0.05, -0.04, -0.02, 0.0, 0.02, 0.04, 0.06, 0.08, 0.1, 0.12, 0.14, 0.16, 0.18, 0.2],
  [0, 0.02, 0.05, 0.08, 0.11, 0.14, 0.16, 0.18, 0.2, 0.21, 0.22, 0.22, 0.22, 0.21, 0.2, 0.19, 0.18, 0.17, 0.16, 0.15, 0.14, 0.13, 0.12],
  [0, -0.03, -0.06, -0.09, -0.12, -0.14, -0.16, -0.18, -0.2, -0.22, -0.25, -0.28, -0.31, -0.34, -0.37, -0.4, -0.43, -0.46, -0.49, -0.52, -0.55, -0.58, -0.61],
  [0, 0.02, 0.05, 0.09, 0.14, 0.19, 0.24, 0.3, 0.35, 0.4, 0.45, 0.5, 0.55, 0.6, 0.65, 0.7, 0.74, 0.78, 0.82, 0.86, 0.9, 0.94, 0.98],
  [0, 0.01, 0.03, 0.06, 0.09, 0.12, 0.15, 0.19, 0.23, 0.27, 0.3, 0.32, 0.33, 0.33, 0.32, 0.31, 0.3, 0.3, 0.3, 0.31, 0.32, 0.33, 0.34],
];

// ---------------- styling helpers ----------------
const SERIF = "'Liberation Serif', 'Times New Roman', 'DejaVu Serif', serif";
const SCRIPT = "'DejaVu Serif', 'DejaVu Sans', serif";
const AXIS_COLOR = '#5b5b5b';
const PINK_ALPHAS = [0.5, 0.32, 0.62, 0.4, 0.26, 0.55, 0.36];
const RED = '#ff2222';

type Glyph = { t: string; size: number; italic?: boolean; dy?: number; family?: string };
type Group = Glyph[];

function fontOf(g: Glyph) {
  return `${g.italic ? 'italic ' : ''}${g.size}px ${g.family || SERIF}`;
}

function groupWidth(ctx: CanvasRenderingContext2D, grp: Group) {
  let w = 0;
  grp.forEach((g) => {
    ctx.font = fontOf(g);
    w = Math.max(w, ctx.measureText(g.t).width);
  });
  return w;
}

function drawGroups(
  ctx: CanvasRenderingContext2D,
  groups: Group[],
  x: number,
  y: number,
  opts: { rotate?: boolean; align?: 'left' | 'center'; gap?: number }
) {
  const gap = opts.gap ?? 3;
  ctx.save();
  ctx.translate(x, y);
  if (opts.rotate) ctx.rotate(-Math.PI / 2);
  const widths = groups.map((g) => groupWidth(ctx, g));
  const total = widths.reduce((a, b) => a + b, 0) + gap * (groups.length - 1);
  let cx = opts.align === 'left' ? 0 : -total / 2;
  ctx.textAlign = 'left';
  ctx.textBaseline = 'alphabetic';
  ctx.fillStyle = '#000';
  groups.forEach((grp, i) => {
    grp.forEach((g) => {
      ctx.font = fontOf(g);
      ctx.fillText(g.t, cx, g.dy || 0);
    });
    cx += widths[i] + gap;
  });
  ctx.restore();
}

type PanelSpec = {
  letter: string;
  tau: number[];
  samples: number[][];
  mean: number[];
  upper: number[];
  lower: number[];
  ref: number;
  yGroups: Group[];
  leftW: number;
  topH: number;
  bottomH: number;
  rightPad: number;
};

const MAIN = 98;
const SUB = 72;

const PANEL_A: PanelSpec = {
  letter: 'a',
  tau: TAU_A,
  samples: SAMPLES_A,
  mean: MEAN_A,
  upper: UPPER_A,
  lower: LOWER_A,
  ref: REF_A,
  yGroups: [
    [{ t: '\u2110', size: MAIN, family: SCRIPT }],
    [
      { t: 'z', size: SUB, italic: true, dy: 22 },
      { t: 'z', size: SUB, italic: true, dy: -42 },
    ],
    [{ t: '/', size: MAIN }],
    [{ t: '\u03c9', size: MAIN, italic: true }],
    [
      { t: 'z', size: SUB, italic: true, dy: 22 },
      { t: '*', size: SUB, dy: -44 },
    ],
  ],
  leftW: 386,
  topH: 307,
  bottomH: 1587 - 1367,
  rightPad: 1940 - 1809,
};

const PANEL_B: PanelSpec = {
  letter: 'b',
  tau: TAU_B,
  samples: SAMPLES_B,
  mean: MEAN_B,
  upper: UPPER_B,
  lower: LOWER_B,
  ref: REF_B,
  yGroups: [
    [{ t: '\u212c', size: MAIN, family: SCRIPT }],
    [
      { t: 'N', size: SUB, italic: true, dy: 26 },
      { t: 'z', size: SUB, italic: true, dy: -44 },
    ],
    [{ t: '/', size: MAIN }],
    [{ t: '\u03c9', size: MAIN, italic: true }],
    [
      { t: 'z', size: SUB, italic: true, dy: 22 },
      { t: '*', size: SUB, dy: -44 },
    ],
  ],
  leftW: 2406 - 1940,
  topH: 287,
  bottomH: 1587 - 1346,
  rightPad: 1941 - (3825 - 1940),
};

function fmtY(v: number) {
  if (Math.abs(v) < 1e-9) return '0';
  return (v < 0 ? '\u2212' : '') + Math.abs(v).toFixed(1);
}

function PanelChart({ spec, left, width }: { spec: PanelSpec; left: number; width: number }) {
  const ref = useRef<HTMLCanvasElement | null>(null);

  useEffect(() => {
    const canvas = ref.current;
    if (!canvas) return;

    const sampleSets = spec.samples.map((arr, i) => ({
      data: arr.map((y, j) => ({ x: spec.tau[j], y })),
      borderColor: `rgba(244,146,196,${PINK_ALPHAS[i % PINK_ALPHAS.length]})`,
      borderWidth: 3,
      pointRadius: 0,
      tension: 0.4,
      fill: false,
      order: 3,
    }));

    const statLine = (vals: number[], dashed: boolean) => ({
      data: vals.map((y, j) => ({ x: TAU_STAT[j], y })),
      borderColor: RED,
      borderWidth: dashed ? 8 : 7,
      borderDash: dashed ? [28, 15] : [],
      pointRadius: 0,
      tension: 0.4,
      fill: false,
      order: 0,
    });

    const refLine = {
      data: [
        { x: 0, y: spec.ref },
        { x: 30, y: spec.ref },
      ],
      borderColor: '#707070',
      borderWidth: 4,
      borderDash: [17, 9],
      pointRadius: 0,
      fill: false,
      order: 1,
    };

    const decor = {
      id: 'decor' + spec.letter,
      afterDraw(chart: any) {
        const ctx: CanvasRenderingContext2D = chart.ctx;
        const { left: l, right: r, top: t, bottom: b } = chart.chartArea;
        ctx.save();
        ctx.strokeStyle = AXIS_COLOR;
        ctx.lineWidth = 4;
        ctx.beginPath();
        ctx.moveTo(r, t - 2);
        ctx.lineTo(r, b + 2);
        ctx.stroke();
        ctx.restore();
        drawGroups(
          ctx,
          [[{ t: '(', size: 96 }], [{ t: spec.letter, size: 96, italic: true }], [{ t: ')', size: 96 }]],
          spec.letter === 'a' ? 4 : 2022 - 1940,
          84,
          { align: 'left', gap: 1 }
        );
        drawGroups(
          ctx,
          [[{ t: '\u03c4', size: 92, italic: true }], [{ t: '+', size: 70, dy: -36 }]],
          (l + r) / 2,
          t - 149,
          { align: 'center', gap: 4 }
        );
        drawGroups(ctx, [[{ t: '\u03c4', size: 92, italic: true }]], (l + r) / 2 + 8, b + 200, {
          align: 'center',
        });
        drawGroups(ctx, spec.yGroups, l - 270, (t + b) / 2, { rotate: true, align: 'center', gap: 3 });
      },
    };

    const tickFont = { size: 86, family: SERIF };
    const gridCfg = {
      display: true,
      drawOnChartArea: false,
      drawTicks: true,
      tickLength: 14,
      tickWidth: 3,
      tickColor: AXIS_COLOR,
      color: AXIS_COLOR,
    };
    const borderCfg = { display: true, color: AXIS_COLOR, width: 4 };

    const chart = new Chart(canvas, {
      type: 'line',
      data: {
        datasets: [statLine(spec.mean, false), statLine(spec.upper, true), statLine(spec.lower, true), refLine, ...sampleSets] as any,
      },
      options: {
        animation: false,
        responsive: false,
        devicePixelRatio: 1,
        layout: { padding: { left: 0, right: spec.rightPad, top: 0, bottom: 0 } },
        plugins: { legend: { display: false }, tooltip: { enabled: false } },
        scales: {
          x: {
            type: 'linear',
            position: 'bottom',
            min: 0,
            max: 30,
            afterBuildTicks: (s: any) => {
              s.ticks = X_TICKS.map((v) => ({ value: v }));
            },
            afterFit: (s: any) => {
              s.height = spec.bottomH;
            },
            grid: gridCfg,
            border: borderCfg,
            ticks: { color: '#000', font: tickFont, padding: 6, maxRotation: 0, autoSkip: false, callback: (v: any) => String(v) },
          },
          x2: {
            type: 'linear',
            position: 'top',
            min: 0,
            max: TAU_PLUS_MAX,
            afterBuildTicks: (s: any) => {
              s.ticks = TOP_TICKS.map((v) => ({ value: v }));
            },
            afterFit: (s: any) => {
              s.height = spec.topH;
            },
            grid: gridCfg,
            border: borderCfg,
            ticks: { color: '#000', font: tickFont, padding: -2, maxRotation: 0, autoSkip: false, callback: (v: any) => String(v) },
          },
          y: {
            type: 'linear',
            position: 'left',
            min: -0.5,
            max: 1.5,
            afterBuildTicks: (s: any) => {
              s.ticks = Y_TICKS.map((v) => ({ value: v }));
            },
            afterFit: (s: any) => {
              s.width = spec.leftW;
            },
            grid: gridCfg,
            border: borderCfg,
            ticks: { color: '#000', font: tickFont, padding: 30, autoSkip: false, callback: (v: any) => fmtY(Number(v)) },
          },
        },
      } as any,
      plugins: [decor],
    });

    return () => chart.destroy();
  }, [spec]);

  return (
    <canvas
      ref={ref}
      width={width}
      height={1587}
      style={{ position: 'absolute', left, top: 0, width, height: 1587, display: 'block' }}
    />
  );
}

export default function App() {
  return (
    <div style={{ position: 'absolute', left: 0, top: 0, width: 3881, height: 1587, background: '#fff', overflow: 'hidden' }}>
      <PanelChart spec={PANEL_A} left={0} width={1940} />
      <PanelChart spec={PANEL_B} left={1940} width={1941} />
    </div>
  );
}
